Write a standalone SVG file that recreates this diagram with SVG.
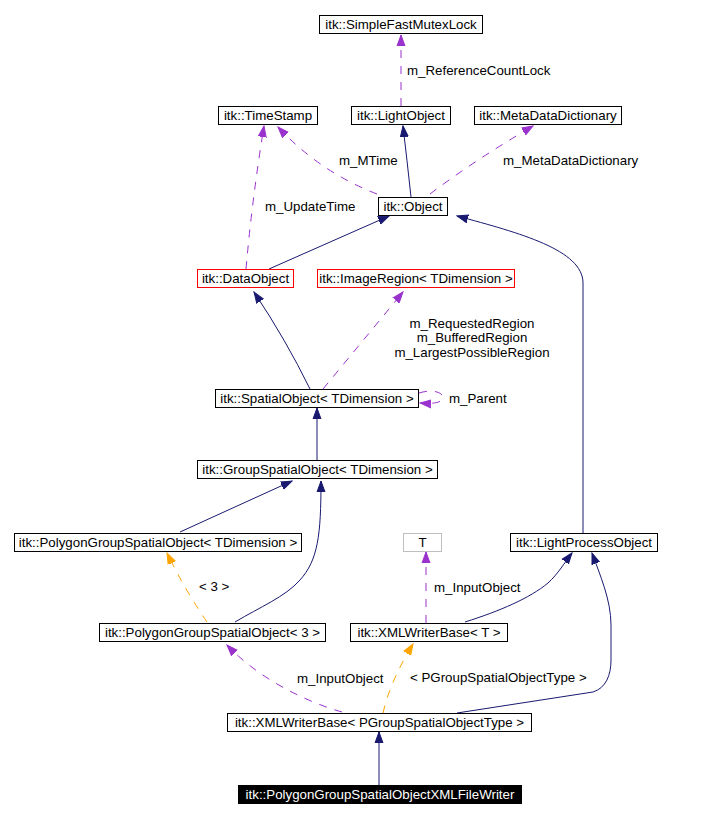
<svg xmlns="http://www.w3.org/2000/svg" width="706" height="819" viewBox="0 0 706 819">
<defs>
<style>
.n rect{fill:#fff;stroke:#000;stroke-width:1}
.n.red rect{stroke:#ff0000}
.n.grey rect{stroke:#bfbfbf}
.n.dark rect{fill:#000;stroke:#000}
text{font-family:"Liberation Sans",Arial,sans-serif;font-size:13.3px;fill:#000}
.n text{text-anchor:middle}
.n.dark text{fill:#fff}
.e{fill:none;stroke-width:1}
.inh{stroke:#191970;marker-end:url(#aN)}
.use{stroke:#9a32cd;stroke-dasharray:8,8;marker-end:url(#aP)}
.tpl{stroke:#ffa500;stroke-dasharray:8,8;marker-end:url(#aO)}
</style>
<marker id="aN" markerUnits="userSpaceOnUse" markerWidth="12" markerHeight="10" refX="11" refY="5" orient="auto"><path d="M0,1 L11,5 L0,9 z" fill="#191970" stroke="#191970"/></marker>
<marker id="aP" markerUnits="userSpaceOnUse" markerWidth="12" markerHeight="10" refX="11" refY="5" orient="auto"><path d="M0,1 L11,5 L0,9 z" fill="#9a32cd" stroke="#9a32cd"/></marker>
<marker id="aO" markerUnits="userSpaceOnUse" markerWidth="12" markerHeight="10" refX="11" refY="5" orient="auto"><path d="M0,1 L11,5 L0,9 z" fill="#ffa500" stroke="#ffa500"/></marker>
</defs>
<rect width="706" height="819" fill="#fff"/>
<g id="connectors">
<path class="e use" d="M401,106 L401,35"/>
<path class="e use" d="M377,194 Q320,172 278,127"/>
<path class="e inh" d="M411,197 Q407,160 403,126"/>
<path class="e use" d="M430,194 Q475,160 533,126"/>
<path class="e use" d="M246,269 Q252,200 264,126"/>
<path class="e inh" d="M269,269 L389,216"/>
<path class="e inh" d="M583,533 L583,283 C583,250 520,233 457,216"/>
<path class="e inh" d="M310,389 Q286,340 254,292"/>
<path class="e use" d="M323,389 L403,292"/>
<path class="e use" d="M419,393 C432,389 443,392 443,398 C442,403 432,404 420,403"/>
<path class="e inh" d="M317,460 L317,408"/>
<path class="e inh" d="M180,532 L292,481"/>
<path class="e inh" d="M235,622 C260,607 285,597 300,580 C318,560 321,535 321,481"/>
<path class="e tpl" d="M207,622 Q185,590 167,553"/>
<path class="e use" d="M426,623 L426,552"/>
<path class="e inh" d="M465,622 C500,611 530,598 548,583 C558,574 565,562 572,553"/>
<path class="e use" d="M342,712 C300,700 255,675 227,645"/>
<path class="e tpl" d="M383,713 C388,690 400,665 413,644"/>
<path class="e inh" d="M457,713 L593,692 C606,688 611,675 611,660 L611,625 C611,600 600,575 592,553"/>
<path class="e inh" d="M379,785 L379,732"/>
</g>
<g id="labels">
<text x="407" y="75">m_ReferenceCountLock</text>
<text x="339" y="165">m_MTime</text>
<text x="503" y="165">m_MetaDataDictionary</text>
<text x="265" y="211">m_UpdateTime</text>
<text x="472" y="328" text-anchor="middle">m_RequestedRegion</text>
<text x="472" y="342" text-anchor="middle">m_BufferedRegion</text>
<text x="472" y="357" text-anchor="middle">m_LargestPossibleRegion</text>
<text x="449" y="403">m_Parent</text>
<text x="199" y="591">&lt; 3 &gt;</text>
<text x="434" y="592">m_InputObject</text>
<text x="297" y="683">m_InputObject</text>
<text x="410" y="682">&lt; PGroupSpatialObjectType &gt;</text>
</g>
<g id="n_mutex" class="n"><rect x="319.5" y="15.5" width="163" height="18"/><text x="401" y="29">itk::SimpleFastMutexLock</text></g>
<g id="n_timestamp" class="n"><rect x="218.5" y="106.5" width="99" height="18"/><text x="268" y="120">itk::TimeStamp</text></g>
<g id="n_lightobject" class="n"><rect x="351.5" y="106.5" width="99" height="18"/><text x="401" y="120">itk::LightObject</text></g>
<g id="n_metadata" class="n"><rect x="474.5" y="106.5" width="147" height="18"/><text x="548" y="120">itk::MetaDataDictionary</text></g>
<g id="n_object" class="n"><rect x="378.5" y="197.5" width="69" height="18"/><text x="413" y="211">itk::Object</text></g>
<g id="n_dataobject" class="n red"><rect x="197.5" y="269.5" width="96" height="18"/><text x="245.5" y="283">itk::DataObject</text></g>
<g id="n_imageregion" class="n red"><rect x="317.5" y="269.5" width="197" height="18"/><text x="416" y="283">itk::ImageRegion&lt; TDimension &gt;</text></g>
<g id="n_spatial" class="n"><rect x="215.5" y="389.5" width="203" height="18"/><text x="317" y="403">itk::SpatialObject&lt; TDimension &gt;</text></g>
<g id="n_group" class="n"><rect x="197.5" y="460.5" width="240" height="18"/><text x="317.5" y="474">itk::GroupSpatialObject&lt; TDimension &gt;</text></g>
<g id="n_polygroup" class="n"><rect x="14.5" y="533.5" width="287" height="18"/><text x="158" y="547">itk::PolygonGroupSpatialObject&lt; TDimension &gt;</text></g>
<g id="n_T" class="n grey"><rect x="403.5" y="533.5" width="38" height="18"/><text x="422.5" y="547">T</text></g>
<g id="n_lpo" class="n"><rect x="510.5" y="533.5" width="147" height="18"/><text x="584" y="547">itk::LightProcessObject</text></g>
<g id="n_polygroup3" class="n"><rect x="99.5" y="623.5" width="226" height="18"/><text x="212.5" y="637">itk::PolygonGroupSpatialObject&lt; 3 &gt;</text></g>
<g id="n_xmlwbT" class="n"><rect x="350.5" y="623.5" width="157" height="18"/><text x="429" y="637">itk::XMLWriterBase&lt; T &gt;</text></g>
<g id="n_xmlwbP" class="n"><rect x="227.5" y="713.5" width="304" height="18"/><text x="379.5" y="727">itk::XMLWriterBase&lt; PGroupSpatialObjectType &gt;</text></g>
<g id="n_writer" class="n dark"><rect x="238.5" y="785.5" width="283" height="18"/><text x="380" y="799">itk::PolygonGroupSpatialObjectXMLFileWriter</text></g>
</svg>
